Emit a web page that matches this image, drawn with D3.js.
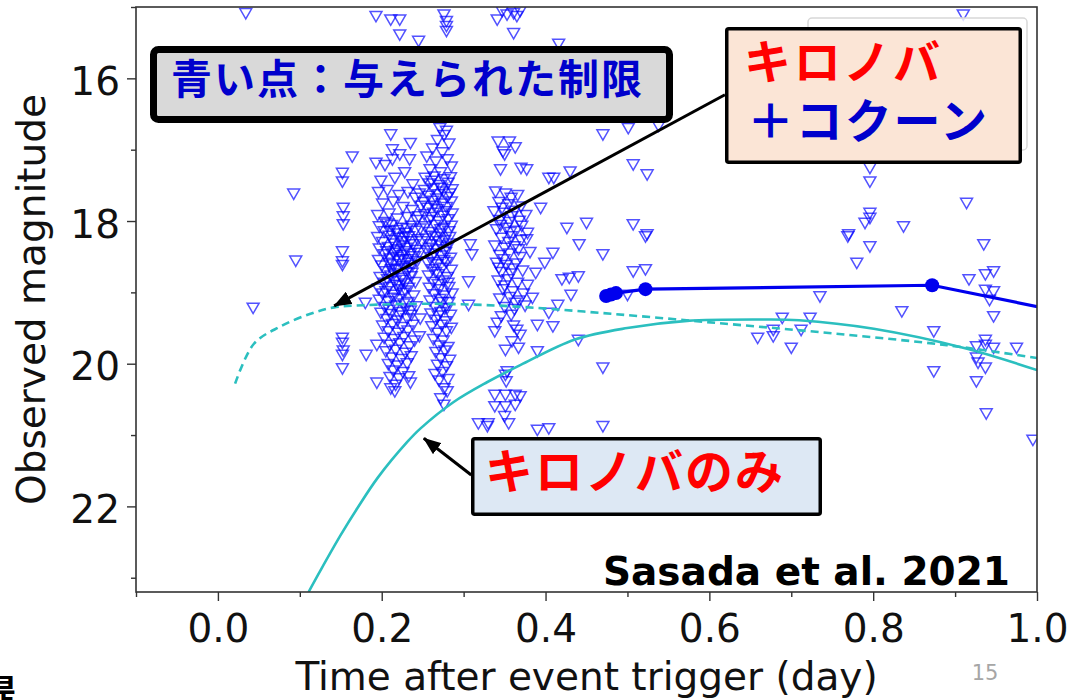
<!DOCTYPE html>
<html>
<head>
<meta charset="utf-8">
<script src="https://d3js.org/d3.v7.min.js"></script>
<style>
    body {
        margin: 0;
        background: #fff;
    }

    .axis text {
        font-family: "DejaVu Sans", sans-serif;
        font-size: 39px;
        fill: #111;
    }

    .axis line {
        stroke: #333;
        stroke-width: 1.4px;
    }

    .axis-title {
        font-family: "DejaVu Sans", sans-serif;
        font-size: 39px;
        fill: #111;
    }

    .limit {
        fill: none;
        stroke: #0000ff;
        stroke-opacity: 0.68;
        stroke-width: 1.5px;
    }

    .jp {
        font-family: "Noto Sans CJK JP", sans-serif;
        font-weight: 700;
    }
</style>
</head>
<body>
<script>
    // upper limits (open triangles), [time in day, magnitude]
    var earlyLimits = [
        [0.034,15.07],[0.0925,17.6],[0.095,18.54],[0.043,19.2],[0.164,17.08],
        [0.152,17.31],[0.152,17.43],[0.153,17.8],[0.153,17.92],[0.153,18.03],[0.152,18.41],
        [0.152,18.55],[0.152,18.6],[0.152,19.62],[0.152,19.69],[0.153,19.8],[0.152,19.86],
        [0.152,20.05],[0.18,19.13],[0.181,19.86],[0.194,19.72],[0.194,20.25],
        [0.193,15.11],[0.211,15.16],[0.222,15.16],[0.222,15.37],[0.245,15.46]
    ];

    var cluster1Limits = [
        [0.211,16.77],[0.213,16.98],[0.235,16.89],[0.234,17.12],[0.213,17.12],[0.193,17.17],
        [0.204,17.2],[0.222,17.05],[0.228,17.3],[0.199,17.42],[0.216,17.38],[0.238,17.47],
        [0.196,17.58],[0.207,17.55],[0.221,17.62],[0.232,17.58],[0.241,17.66],[0.201,17.74],
        [0.214,17.71],[0.226,17.79],[0.237,17.83],[0.195,17.9],[0.209,17.88],[0.219,17.95],
        [0.231,17.93],[0.243,17.97],[0.204,18.0],
        [0.197,18.06],[0.212,18.04],[0.225,18.08],[0.236,18.05],
        [0.203,18.13],[0.218,18.11],[0.229,18.15],[0.241,18.12],
        [0.195,18.21],[0.209,18.19],[0.221,18.22],[0.233,18.2],[0.244,18.24],
        [0.201,18.28],[0.215,18.3],[0.226,18.27],[0.238,18.31],
        [0.197,18.37],[0.208,18.35],[0.219,18.38],[0.23,18.36],[0.242,18.39],
        [0.203,18.45],[0.214,18.43],[0.224,18.46],[0.235,18.44],
        [0.196,18.53],[0.21,18.51],[0.221,18.54],[0.232,18.52],[0.243,18.55],
        [0.2,18.61],[0.213,18.59],[0.227,18.62],[0.238,18.6],
        [0.205,18.69],[0.218,18.67],[0.23,18.7],
        [0.198,18.77],[0.211,18.75],[0.224,18.78],[0.236,18.76],
        [0.203,18.85],[0.216,18.83],[0.228,18.86],[0.241,18.84],
        [0.196,18.93],[0.209,18.91],[0.221,18.94],[0.233,18.92],
        [0.201,19.0],[0.214,19.02],[0.226,18.99],[0.239,19.03],
        [0.197,19.09],[0.208,19.11],[0.22,19.08],[0.232,19.12],
        [0.204,19.19],[0.217,19.17],[0.229,19.21],[0.242,19.18],
        [0.199,19.27],[0.211,19.29],[0.223,19.26],[0.236,19.3],
        [0.206,19.36],[0.219,19.38],[0.231,19.35],
        [0.201,19.45],[0.213,19.43],[0.225,19.47],[0.238,19.44],
        [0.208,19.53],[0.22,19.55],[0.232,19.52],
        [0.203,19.62],[0.215,19.64],[0.227,19.61],[0.24,19.66],
        [0.21,19.72],[0.222,19.7],[0.234,19.74],
        [0.205,19.81],[0.217,19.79],[0.229,19.83],
        [0.212,19.9],[0.224,19.92],[0.236,19.88],
        [0.208,19.99],[0.219,20.01],[0.231,19.98],
        [0.214,20.08],[0.226,20.1],
        [0.21,20.17],[0.221,20.19],[0.233,20.16],
        [0.217,20.28],[0.235,20.25],[0.216,20.37],[0.211,20.33],
        // dense core
        [0.207,18.02],[0.219,18.16],[0.231,18.09],[0.213,18.25],[0.224,18.33],[0.236,18.27],
        [0.206,18.41],[0.218,18.49],[0.229,18.41],[0.24,18.48],[0.209,18.57],[0.22,18.65],
        [0.233,18.57],[0.215,18.72],[0.226,18.81],[0.237,18.71],[0.207,18.8],[0.218,18.88],
        [0.229,18.96],[0.205,18.97],[0.212,18.66],[0.226,18.52],[0.217,18.4],[0.228,18.21],
        [0.21,18.12],[0.234,18.64],[0.222,18.89],[0.214,19.06],[0.227,19.14],[0.209,19.23],
        [0.221,19.31],[0.235,19.24],
        [0.246,17.6],[0.248,17.77],[0.245,17.92],[0.247,18.09],[0.249,18.27],[0.246,18.43],
        [0.247,19.35],[0.246,19.6]
    ];

    var cluster2Limits = [
        [0.276,15.09],[0.279,15.18],[0.279,15.25],[0.279,15.32],
        [0.271,16.68],[0.279,16.72],[0.276,16.78],[0.268,16.85],[0.282,16.9],[0.262,16.97],
        [0.274,17.02],[0.255,17.08],[0.28,17.12],[0.266,17.15],[0.285,17.22],[0.259,17.26],
        [0.272,17.3],
        [0.253,17.38],[0.264,17.36],[0.276,17.4],[0.284,17.37],
        [0.258,17.46],[0.27,17.48],[0.281,17.45],
        [0.252,17.55],[0.263,17.53],[0.275,17.57],[0.286,17.54],
        [0.257,17.63],[0.269,17.61],[0.28,17.65],
        [0.251,17.72],[0.262,17.7],[0.274,17.74],[0.285,17.71],
        [0.256,17.8],[0.268,17.82],[0.279,17.79],
        [0.252,17.89],[0.263,17.87],[0.275,17.91],[0.286,17.88],
        [0.258,17.97],[0.27,17.99],[0.281,17.96],
        [0.253,18.06],[0.265,18.04],[0.276,18.08],[0.285,18.05],
        [0.259,18.14],[0.271,18.16],[0.282,18.13],
        [0.254,18.23],[0.266,18.21],[0.277,18.25],
        [0.26,18.31],[0.272,18.33],[0.283,18.3],
        [0.255,18.4],[0.267,18.38],[0.278,18.42],
        [0.261,18.49],[0.273,18.47],[0.284,18.5],
        [0.256,18.57],[0.268,18.59],[0.279,18.56],
        [0.262,18.66],[0.274,18.64],[0.285,18.67],
        [0.257,18.75],[0.269,18.73],[0.28,18.77],
        [0.263,18.84],[0.275,18.82],
        [0.258,18.92],[0.27,18.94],[0.282,18.91],
        [0.264,19.01],[0.276,19.03],[0.286,19.0],
        [0.259,19.1],[0.271,19.08],[0.282,19.12],
        [0.265,19.19],[0.277,19.21],
        [0.26,19.28],[0.272,19.26],[0.284,19.3],
        [0.266,19.37],[0.278,19.39],
        [0.261,19.46],[0.273,19.44],[0.285,19.48],
        [0.268,19.55],[0.279,19.53],
        [0.263,19.64],[0.275,19.66],
        [0.27,19.73],[0.281,19.75],
        [0.266,19.82],[0.277,19.8],
        [0.272,19.91],[0.283,19.93],
        [0.268,20.0],[0.279,20.02],
        [0.274,20.1],[0.265,20.13],
        [0.27,20.22],[0.281,20.2],
        [0.276,20.33],[0.28,20.37],[0.272,20.47],[0.276,20.56],
        // dense core
        [0.261,17.42],[0.273,17.52],[0.267,17.67],[0.278,17.85],[0.26,17.93],[0.272,18.1],
        [0.261,18.19],[0.283,18.21],[0.27,18.27],[0.264,18.44],[0.276,18.53],[0.266,18.7],
        [0.281,18.85],[0.269,18.87],[0.258,18.36],[0.264,17.77],[0.283,17.6],[0.279,18.35],
        [0.262,18.56],[0.274,19.12],[0.269,19.31],[0.28,19.2],
        [0.308,18.31],[0.31,18.45],[0.306,18.83],[0.306,19.16]
    ];

    var cluster3Limits = [
        [0.341,15.16],[0.347,15.04],[0.353,15.09],[0.361,15.07],[0.369,15.04],[0.361,15.35],[0.365,15.11],
        [0.342,16.87],[0.356,16.87],[0.348,17.01],[0.35,17.05],[0.363,16.95],[0.345,17.26],[0.37,17.24],
        [0.339,17.57],[0.351,17.6],[0.366,17.62],[0.358,17.66],
        [0.343,17.72],[0.355,17.75],[0.37,17.78],
        [0.337,17.85],[0.349,17.87],[0.362,17.84],[0.376,17.9],
        [0.344,17.97],[0.356,18.0],[0.368,17.98],
        [0.34,18.1],[0.352,18.08],[0.364,18.12],[0.378,18.15],
        [0.346,18.22],[0.358,18.2],[0.37,18.25],
        [0.338,18.33],[0.35,18.36],[0.362,18.34],
        [0.344,18.46],[0.356,18.44],[0.369,18.49],[0.381,18.42],
        [0.34,18.57],[0.352,18.6],[0.364,18.58],
        [0.346,18.7],[0.358,18.72],[0.372,18.68],
        [0.342,18.82],[0.354,18.8],[0.366,18.85],[0.378,18.88],
        [0.348,18.94],[0.36,18.97],[0.373,19.0],
        [0.344,19.07],[0.356,19.05],[0.368,19.1],
        [0.35,19.19],[0.362,19.22],[0.375,19.17],
        [0.346,19.32],[0.358,19.3],[0.341,19.41],[0.361,19.45],
        [0.338,19.53],[0.351,19.79],[0.365,19.51],[0.369,19.58],[0.367,19.76],[0.359,19.67],
        [0.353,20.09],[0.351,20.14],[0.352,20.23],[0.369,20.44],
        [0.338,20.42],[0.351,20.42],[0.363,20.42],[0.338,20.58],[0.351,20.58],[0.363,20.56],[0.35,20.72],
        [0.318,20.82],[0.33,20.82],[0.329,20.86],[0.355,20.82],
        // dense core
        [0.347,17.8],[0.359,17.92],[0.345,18.04],[0.371,18.05],[0.355,18.28],[0.367,18.38],
        [0.349,18.52],[0.36,18.65],[0.35,18.89],[0.363,19.13],[0.343,18.64],[0.357,18.14]
    ];

    var lateLimits = [
        [0.416,15.5],[0.47,16.77],[0.501,16.68],[0.507,17.19],[0.524,17.33],[0.538,16.65],
        [0.377,17.26],[0.404,17.38],[0.41,17.38],[0.43,17.29],[0.394,17.8],[0.426,18.08],
        [0.45,18.01],[0.507,18.03],[0.524,18.17],
        [0.377,18.24],[0.409,18.43],[0.441,18.31],[0.47,18.45],[0.399,18.57],[0.388,18.71],
        [0.42,18.8],[0.429,18.78],[0.44,18.76],[0.431,19.02],[0.384,19.06],[0.415,19.16],
        [0.404,19.27],[0.39,19.44],[0.409,19.46],[0.44,19.65],[0.39,19.81],[0.47,20.04],
        [0.47,20.86],[0.39,20.91],[0.404,20.89],[0.507,21.17],[0.517,21.14],
        [0.507,18.69],[0.522,18.66],[0.522,18.2],[0.5,19.02],
        [0.735,19.04],[0.835,19.25],[0.689,19.34],[0.723,19.34],[0.678,19.51],[0.712,19.51],
        [0.659,19.62],[0.678,19.6],[0.7,19.76],
        [0.769,18.2],[0.796,18.34],[0.78,18.57],[0.874,19.53],[0.874,20.09],
        [0.935,18.31],[0.917,18.8],[0.937,18.73],[0.947,18.69],[0.937,18.95],[0.947,18.97],
        [0.942,19.09],[0.947,19.32],[0.937,19.65],[0.937,19.72],[0.926,19.74],[0.947,19.76],
        [0.975,19.76],[0.926,19.9],[0.928,19.97],[0.937,20.04],[0.926,20.23],[0.938,20.68],
        [0.995,21.05],
        [0.91,15.09],[0.796,17.24],[0.796,17.43],[0.914,17.73],[0.796,17.87],[0.796,17.94],
        [0.79,18.01],[0.837,18.06],[0.77,18.17]
    ];

    // detections (filled circles, joined)
    var detections = [[0.474,19.05],[0.48,19.03],[0.486,19.01],[0.522,18.955],[0.872,18.9],[1.06,19.34]];

    // models
    var kilonovaCocoon = [
        [0.021,20.28],[0.044,19.72],[0.076,19.48],[0.113,19.3],[0.142,19.21],[0.178,19.18],
        [0.26,19.16],[0.35,19.19],[0.48,19.3],[0.62,19.44],[0.755,19.58],[0.89,19.74],[1.0,19.92]
    ];
    var kilonovaOnly = [
        [0.1107,23.2],[0.1251,22.9],[0.15,22.4],[0.17,22.03],[0.195,21.6],[0.2309,21.1],
        [0.2471,20.91],[0.2874,20.54],[0.3285,20.26],[0.3691,20.02],[0.436,19.66],[0.4997,19.5],
        [0.5727,19.4],[0.662,19.38],[0.7096,19.39],[0.8007,19.51],[0.9146,19.79],[1.0,20.09]
    ];

    var xMajor = [0, 0.2, 0.4, 0.6, 0.8, 1.0],
        xMinor = [-0.1, 0.1, 0.3, 0.5, 0.7, 0.9],
        yMajor = [16, 18, 20, 22],
        yMinor = [15, 17, 19, 21, 23];

    var width = 1086, height = 700;
    var margin = {top: 7, right: 49, bottom: 108, left: 136};

    var svg = d3.select("body").append("svg")
        .attr("width", width)
        .attr("height", height);

    var x = d3.scaleLinear().domain([-0.1, 1.0]).range([margin.left, width - margin.right]);
    var y = d3.scaleLinear().domain([15, 23.2]).range([margin.top, height - margin.bottom]);

    var defs = svg.append("defs");
    defs.append("clipPath").attr("id", "plot-clip")
        .append("rect")
        .attr("x", x.range()[0]).attr("y", y.range()[0])
        .attr("width", x.range()[1] - x.range()[0])
        .attr("height", y.range()[1] - y.range()[0]);

    defs.append("marker")
        .attr("id", "arrow")
        .attr("markerUnits", "userSpaceOnUse")
        .attr("markerWidth", 18).attr("markerHeight", 14)
        .attr("refX", 17).attr("refY", 7)
        .attr("orient", "auto")
        .append("path")
        .attr("d", "M0,0 L18,7 L0,14 Z")
        .attr("fill", "#000");

    var plot = svg.append("g").attr("clip-path", "url(#plot-clip)");

    var allLimits = earlyLimits.concat(cluster1Limits, cluster2Limits, cluster3Limits, lateLimits);
    var tri = d3.symbol().type(d3.symbolTriangle).size(62);

    plot.append("g").selectAll("path")
        .data(allLimits)
        .enter().append("path")
        .attr("class", "limit")
        .attr("d", tri)
        .attr("transform", function(d) {
            return "translate(" + x(d[0]) + "," + y(d[1]) + ") rotate(180)";
        });

    var smooth = d3.line()
        .x(function(d) { return x(d[0]); })
        .y(function(d) { return y(d[1]); })
        .curve(d3.curveCatmullRom.alpha(0.5));

    plot.append("path")
        .datum(kilonovaCocoon)
        .attr("d", smooth)
        .attr("fill", "none")
        .attr("stroke", "#2bbfbf")
        .attr("stroke-width", 2.6)
        .attr("stroke-dasharray", "8,5");

    plot.append("path")
        .datum(kilonovaOnly)
        .attr("d", smooth)
        .attr("fill", "none")
        .attr("stroke", "#2bbfbf")
        .attr("stroke-width", 2.6);

    var straight = d3.line()
        .x(function(d) { return x(d[0]); })
        .y(function(d) { return y(d[1]); });

    plot.append("path")
        .datum(detections)
        .attr("d", straight)
        .attr("fill", "none")
        .attr("stroke", "#0000ee")
        .attr("stroke-width", 3.2);

    plot.append("g").selectAll("circle")
        .data(detections)
        .enter().append("circle")
        .attr("cx", function(d) { return x(d[0]); })
        .attr("cy", function(d) { return y(d[1]); })
        .attr("r", 7)
        .attr("fill", "#0000ee");

    // faint legend frame, mostly hidden behind the pink box
    svg.append("rect")
        .attr("x", 808).attr("y", 18)
        .attr("width", 219).attr("height", 132)
        .attr("rx", 4)
        .attr("fill", "#fff").attr("fill-opacity", 0.8)
        .attr("stroke", "#d8d8d8").attr("stroke-width", 1.5);

    // axes
    svg.append("g")
        .attr("class", "axis")
        .attr("transform", "translate(0," + y.range()[1] + ")")
        .call(d3.axisBottom(x).tickValues(xMajor).tickSize(9).tickPadding(13)
            .tickFormat(d3.format(".1f")));
    svg.append("g")
        .attr("class", "axis")
        .attr("transform", "translate(0," + y.range()[1] + ")")
        .call(d3.axisBottom(x).tickValues(xMinor).tickSize(5).tickFormat(""));

    var yAxisG = svg.append("g")
        .attr("class", "axis")
        .attr("transform", "translate(" + x.range()[0] + ",0)")
        .call(d3.axisLeft(y).tickValues(yMajor).tickSize(9).tickPadding(7)
            .tickFormat(d3.format("d")));
    yAxisG.selectAll("text").attr("dy", "0.41em");
    svg.append("g")
        .attr("class", "axis")
        .attr("transform", "translate(" + x.range()[0] + ",0)")
        .call(d3.axisLeft(y).tickValues(yMinor).tickSize(5).tickFormat(""));

    svg.selectAll(".axis .domain").remove();

    svg.append("rect")
        .attr("x", x.range()[0]).attr("y", y.range()[0])
        .attr("width", x.range()[1] - x.range()[0])
        .attr("height", y.range()[1] - y.range()[0])
        .attr("fill", "none")
        .attr("stroke", "#333")
        .attr("stroke-width", 1.6);

    svg.append("text")
        .attr("class", "axis-title")
        .attr("x", (x.range()[0] + x.range()[1]) / 2)
        .attr("y", 690)
        .attr("text-anchor", "middle")
        .text("Time after event trigger (day)");

    svg.append("text")
        .attr("class", "axis-title")
        .attr("transform", "translate(45," + (y.range()[0] + y.range()[1]) / 2 + ") rotate(-90)")
        .attr("text-anchor", "middle")
        .text("Observed magnitude");

    svg.append("text")
        .attr("x", 1010).attr("y", 585)
        .attr("text-anchor", "end")
        .style("font-family", "'DejaVu Sans', sans-serif")
        .style("font-weight", "bold")
        .style("font-size", "39px")
        .text("Sasada et al. 2021");

    // annotations
    svg.append("line")
        .attr("x1", x(0.619)).attr("y1", y(16.23))
        .attr("x2", x(0.142)).attr("y2", y(19.19))
        .attr("stroke", "#000").attr("stroke-width", 3)
        .attr("marker-end", "url(#arrow)");

    svg.append("line")
        .attr("x1", x(0.3093)).attr("y1", y(21.56))
        .attr("x2", x(0.2514)).attr("y2", y(21.045))
        .attr("stroke", "#000").attr("stroke-width", 3)
        .attr("marker-end", "url(#arrow)");

    svg.append("rect")
        .attr("x", 153.5).attr("y", 49.5)
        .attr("width", 516).attr("height", 70)
        .attr("rx", 5)
        .attr("fill", "#d9d9d9")
        .attr("stroke", "#000").attr("stroke-width", 7);
    svg.append("text")
        .attr("class", "jp")
        .attr("x", 171).attr("y", 94)
        .attr("textLength", 471)
        .style("font-size", "41px")
        .attr("fill", "#0000cc")
        .text("青い点：与えられた制限");

    svg.append("rect")
        .attr("x", 726.75).attr("y", 28.75)
        .attr("width", 293.5).attr("height", 133.5)
        .attr("rx", 2)
        .attr("fill", "#fbe5d6")
        .attr("stroke", "#000").attr("stroke-width", 3.5);
    var pinkLabel = svg.append("text")
        .attr("class", "jp")
        .style("font-size", "47px");
    pinkLabel.append("tspan")
        .attr("x", 744).attr("y", 79)
        .attr("textLength", 196)
        .attr("fill", "#ff0000")
        .text("キロノバ");
    pinkLabel.append("tspan")
        .attr("x", 747).attr("y", 138)
        .attr("textLength", 240)
        .attr("fill", "#0000cc")
        .text("＋コクーン");

    svg.append("rect")
        .attr("x", 472.75).attr("y", 438.75)
        .attr("width", 347.5).attr("height", 75.5)
        .attr("rx", 2)
        .attr("fill", "#dde8f4")
        .attr("stroke", "#000").attr("stroke-width", 3.5);
    svg.append("text")
        .attr("class", "jp")
        .attr("x", 485).attr("y", 489)
        .attr("textLength", 298)
        .style("font-size", "48px")
        .attr("fill", "#ff0000")
        .text("キロノバのみ");

    // slide leftovers
    svg.append("text")
        .attr("x", 985).attr("y", 680)
        .attr("text-anchor", "middle")
        .style("font-family", "'DejaVu Sans', sans-serif")
        .style("font-size", "21px")
        .attr("fill", "#a6a6a6")
        .text("15");
    svg.append("text")
        .attr("class", "jp")
        .attr("x", -20).attr("y", 706)
        .style("font-size", "36px")
        .attr("fill", "#000")
        .text("提");
</script>
</body>
</html>
